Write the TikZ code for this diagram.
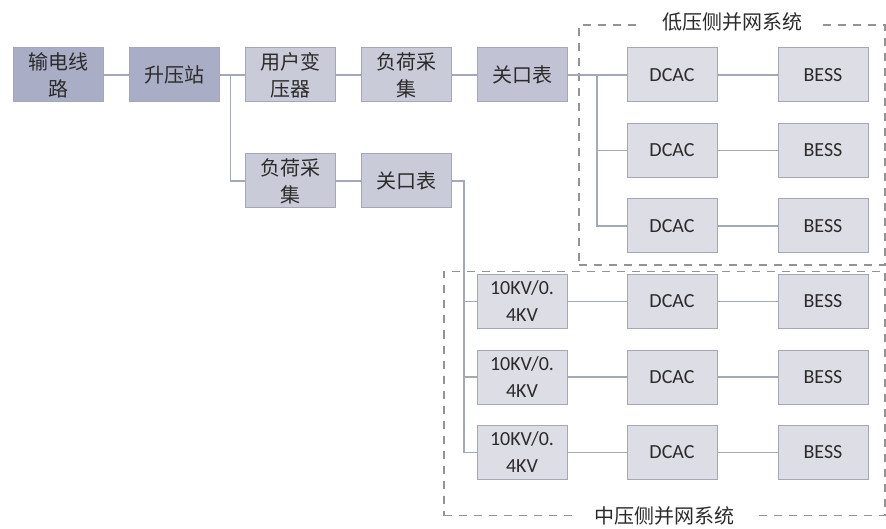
\documentclass[tikz,border=0pt]{standalone}
\usepackage{fontspec}
\setmainfont{Carlito}
\newfontfamily\cjk{Noto Sans CJK SC}
\usetikzlibrary{positioning,calc,fit}
\definecolor{boxdark}{HTML}{AAADC6}
\definecolor{boxmid}{HTML}{C9CBD9}
\definecolor{boxlight}{HTML}{DDDEE5}
\definecolor{boxline}{HTML}{A3A7B6}
\definecolor{wire}{HTML}{A4A9B8}
\definecolor{txt}{HTML}{2B2B2B}
\tikzset{
  unit/.style={
    draw=boxline,
    line width=1pt,
    rectangle,
    minimum width=90pt,
    minimum height=54pt,
    inner sep=0pt,
    outer sep=0pt,
    align=center,
    text=txt,
    font=\fontsize{20}{27}\selectfont,
  },
  dark/.style={unit,fill=boxdark,font=\cjk\fontsize{20}{27}\selectfont},
  mid/.style={unit,fill=boxmid,font=\cjk\fontsize{20}{27}\selectfont},
  light/.style={unit,fill=boxlight},
  wirestyle/.style={draw=wire,line width=1.2pt},
  group/.style={draw=gray!85,line width=1.3pt,dash pattern=on 8pt off 7pt,
    rectangle,inner sep=0pt,outer sep=0pt},
  grouptitle/.style={fill=white,inner xsep=20pt,inner ysep=2pt,text=txt,
    font=\cjk\fontsize{20}{27}\selectfont},
}

\begin{document}
\begin{tikzpicture}[node distance=26pt]
        \useasboundingbox (0,0) rectangle (886pt,-529pt);

        % main chain
        \node (sd) [dark] at (58pt,-75pt) {输电线\\路};
        \node (syz) [dark, right=26pt of sd] {升压站};
        \node (byq) [mid, right=of syz] {用户变\\压器};
        \node (fh1) [mid, right=of byq] {负荷采\\集};
        \node (gk1) [mid, fill=boxmid!75!boxdark, right=of fh1] {关口表};

        % low voltage side
        \node (dcac1) [light, right=60pt of gk1] {DCAC};
        \node (bess1) [light, right=61pt of dcac1] {BESS};
        \node (dcac2) [light, below=21.5pt of dcac1] {DCAC};
        \node (bess2) [light, below=21.5pt of bess1] {BESS};
        \node (dcac3) [light, below=21.5pt of dcac2] {DCAC};
        \node (bess3) [light, below=21.5pt of bess2] {BESS};

        % second branch
        \node (fh2) [mid, below=52pt of byq] {负荷采\\集};
        \node (gk2) [mid, right=of fh2] {关口表};

        % medium voltage side
        \node (dcac4) [light, below=21.5pt of dcac3] {DCAC};
        \node (bess4) [light, below=21.5pt of bess3] {BESS};
        \node (dcac5) [light, below=21.5pt of dcac4] {DCAC};
        \node (bess5) [light, below=21.5pt of bess4] {BESS};
        \node (dcac6) [light, below=21.5pt of dcac5] {DCAC};
        \node (bess6) [light, below=21.5pt of bess5] {BESS};
        \node (tr1) [light] at (gk1 |- dcac4) {10KV/0.\\4KV};
        \node (tr2) [light] at (gk1 |- dcac5) {10KV/0.\\4KV};
        \node (tr3) [light] at (gk1 |- dcac6) {10KV/0.\\4KV};

        % groups
        \coordinate (lvnw) at ($(gk1.north east)+(12pt,23pt)$);
        \coordinate (lvse) at ($(bess3.south east)+(17pt,-12pt)$);
        \node (lv) [group, fit=(lvnw)(lvse)] {};
        \node [grouptitle, yshift=3pt] at (lv.north) {低压侧并网系统};

        \coordinate (mvnw) at ($(tr1.north west)+(-33pt,3pt)$);
        \coordinate (mvse) at ($(bess6.south east)+(17pt,-36pt)$);
        \node (mv) [group, fit=(mvnw)(mvse)] {};
        \node [grouptitle] at (mv.south) {中压侧并网系统};

        % wires
        \draw [wirestyle] (sd) -- (syz);
        \draw [wirestyle] (syz) -- (byq);
        \draw [wirestyle] (byq) -- (fh1);
        \draw [wirestyle] (fh1) -- (gk1);
        \draw [wirestyle] (fh2) -- (gk2);

        \coordinate (j1) at ($(syz.east)!0.45!(byq.west)$);
        \draw [wirestyle] (j1) |- (fh2.west);

        \coordinate (j2) at ($(gk1.east)!0.5!(dcac1.west)$);
        \draw [wirestyle] (gk1) -- (dcac1);
        \draw [wirestyle] (j2) |- (dcac2.west);
        \draw [wirestyle] (j2) |- (dcac3.west);

        \coordinate (j3) at ($(gk2.east)!0.5!(gk2.east -| tr1.west)$);
        \draw [wirestyle] (gk2.east) -- (j3) |- (tr3.west);
        \draw [wirestyle] (j3 |- tr1.west) -- (tr1.west);
        \draw [wirestyle] (j3 |- tr2.west) -- (tr2.west);

        \foreach \i in {1,2,3} {
          \draw [wirestyle] (dcac\i) -- (bess\i);
        }
        \foreach \i/\j in {1/4,2/5,3/6} {
          \draw [wirestyle] (tr\i) -- (dcac\j);
          \draw [wirestyle] (dcac\j) -- (bess\j);
        }
      \end{tikzpicture}
\end{document}
